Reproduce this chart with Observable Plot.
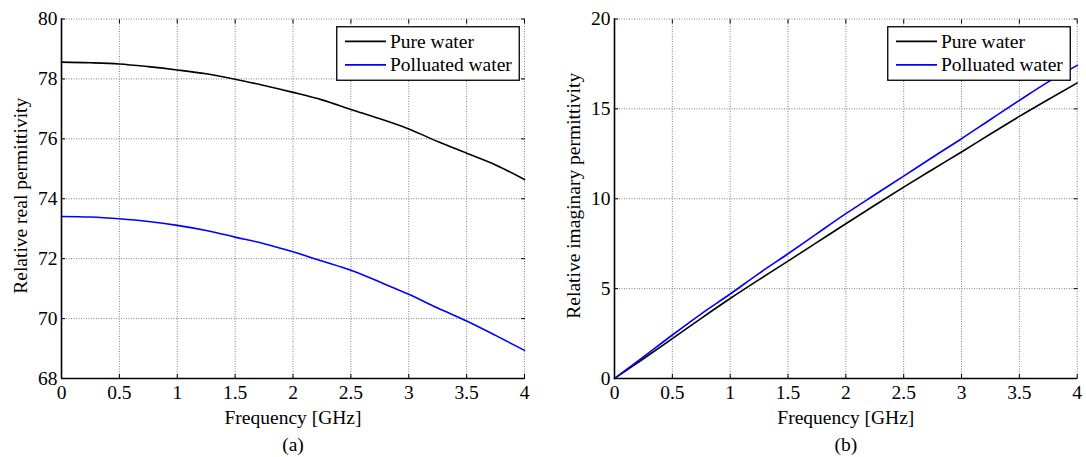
<!DOCTYPE html>
<html><head><meta charset="utf-8">
<script src="https://cdn.jsdelivr.net/npm/d3@7"></script>
<script src="https://cdn.jsdelivr.net/npm/@observablehq/plot@0.6"></script>
<style>
body{margin:0;background:#fff;}
#root{position:relative;width:1086px;height:457px;overflow:hidden;background:#fff;}
.panel{position:absolute;top:0;}
.legend{position:absolute;}
</style></head><body><div id="root"></div>
<script>
// ---- data ----
const freq = [0, 0.25, 0.5, 0.75, 1, 1.25, 1.5, 1.75, 2, 2.25, 2.5, 2.75, 3, 3.25, 3.5, 3.75, 4];
const realPure = [78.56, 78.54, 78.50, 78.41, 78.30, 78.17, 77.99, 77.78, 77.55, 77.30, 76.98, 76.67, 76.33, 75.91, 75.52, 75.13, 74.64];
const realPolluted = [73.41, 73.39, 73.33, 73.24, 73.11, 72.94, 72.72, 72.50, 72.23, 71.92, 71.61, 71.22, 70.81, 70.35, 69.92, 69.44, 68.94];
const imagPure = [0, 1.1, 2.22, 3.35, 4.45, 5.5, 6.53, 7.57, 8.61, 9.64, 10.65, 11.63, 12.6, 13.6, 14.58, 15.52, 16.44];
const imagPolluted = [0, 1.2, 2.42, 3.6, 4.7, 5.85, 6.94, 8.06, 9.17, 10.22, 11.26, 12.31, 13.34, 14.41, 15.47, 16.5, 17.42];
const seriesNames = ["Pure water", "Polluated water"];
const seriesColors = ["#000000", "#0000ff"];
const xTicks = [0, 0.5, 1, 1.5, 2, 2.5, 3, 3.5, 4];
const realTicks = [68, 70, 72, 74, 76, 78, 80];
const imagTicks = [0, 5, 10, 15, 20];
const xLabel = "Frequency [GHz]";
const realLabel = "Relative real permittivity";
const imagLabel = "Relative imaginary permittivity";
const captions = ["(a)", "(b)"];

const FONT = "'Liberation Serif', 'Times New Roman', serif";
const FS = 19.5;
const root = document.getElementById("root");

function makePanel({left, width, marginLeft, marginRight, series, yDomain, yTicks, yLabel, caption, legendLeft}) {
  const fmt = d => String(d);
  const none = () => "";
  const gridStyle = {stroke: "#808080", strokeOpacity: 1, strokeWidth: 1, strokeDasharray: "1,1.5"};
  const lineMarks = series.map((vals, s) =>
    Plot.line(freq.map((f, i) => ({x: f, y: vals[i]})), {x: "x", y: "y", stroke: seriesColors[s], strokeWidth: 1.6, curve: "monotone-x"})
  );
  const txt = {fontFamily: FONT, fontSize: FS, fill: "#000"};
  const chart = Plot.plot({
    width, height: 457,
    marginLeft, marginRight, marginTop: 18.5, marginBottom: 79,
    style: {fontFamily: FONT, fontSize: FS + "px", background: "transparent", color: "#000", overflow: "visible"},
    x: {domain: [0, 4], label: null},
    y: {domain: yDomain, label: null},
    marks: [
      Plot.gridX(xTicks, gridStyle),
      Plot.gridY(yTicks, gridStyle),
      ...lineMarks,
      Plot.ruleX([xTicks[0]], {stroke: "#000", strokeWidth: 1.6}),
      Plot.ruleY([yDomain[0]], {stroke: "#000", strokeWidth: 1.6}),
      Plot.axisX(xTicks, {anchor: "bottom", tickSize: 0, tickPadding: 6.5, tickFormat: fmt, label: null, fontFamily: FONT, fontSize: FS}),
      Plot.axisY(yTicks, {anchor: "left", tickSize: 0, tickPadding: 4, tickFormat: fmt, label: null, fontFamily: FONT, fontSize: FS}),
      Plot.axisX(xTicks, {anchor: "bottom", tickSize: 4, dy: -4, tickFormat: none, label: null}),
      Plot.axisX(xTicks, {anchor: "top", tickSize: 4, dy: 4, tickFormat: none, label: null}),
      Plot.axisY(yTicks, {anchor: "left", tickSize: 4, dx: 4, tickFormat: none, label: null}),
      Plot.axisY(yTicks, {anchor: "right", tickSize: 4, dx: -4, tickFormat: none, label: null}),
      Plot.text([xLabel], {frameAnchor: "bottom", textAnchor: "middle", lineAnchor: "top", dy: 31.5, text: d => d, ...txt}),
      Plot.text([yLabel], {frameAnchor: "left", textAnchor: "middle", rotate: -90, lineAnchor: "middle", dx: -41, dy: -3, text: d => d, ...txt}),
      Plot.text([caption], {frameAnchor: "bottom", textAnchor: "middle", lineAnchor: "middle", dy: 66, text: d => d, ...txt})
    ]
  });
  chart.classList.add("panel");
  chart.style.left = left + "px";
  root.appendChild(chart);

  // legend box (drawn above the lines, as in the reference)
  const lw = 184, lh = 55;
  const lg = d3.select(root).append("svg").attr("class", "legend")
    .attr("width", lw).attr("height", lh)
    .style("left", legendLeft + "px").style("top", "25.7px");
  lg.append("rect").attr("x", 0.75).attr("y", 0.75).attr("width", lw - 1.5).attr("height", lh - 1.5)
    .attr("fill", "#fff").attr("stroke", "#000").attr("stroke-width", 1.3);
  seriesNames.forEach((name, i) => {
    const cy = 15.3 + i * 23.5;
    lg.append("line").attr("x1", 9).attr("x2", 50).attr("y1", cy).attr("y2", cy)
      .attr("stroke", seriesColors[i]).attr("stroke-width", 1.8);
    lg.append("text").attr("x", 54).attr("y", cy).attr("dy", "0.32em")
      .attr("font-family", FONT).attr("font-size", FS).attr("fill", "#000").text(name);
  });
}

makePanel({left: 0, width: 543, marginLeft: 61, marginRight: 19, series: [realPure, realPolluted],
  yDomain: [68, 80], yTicks: realTicks, yLabel: realLabel, caption: captions[0], legendLeft: 335.5});
makePanel({left: 543, width: 543, marginLeft: 71, marginRight: 9.3, series: [imagPure, imagPolluted],
  yDomain: [0, 20], yTicks: imagTicks, yLabel: imagLabel, caption: captions[1], legendLeft: 887});
</script></body></html>
